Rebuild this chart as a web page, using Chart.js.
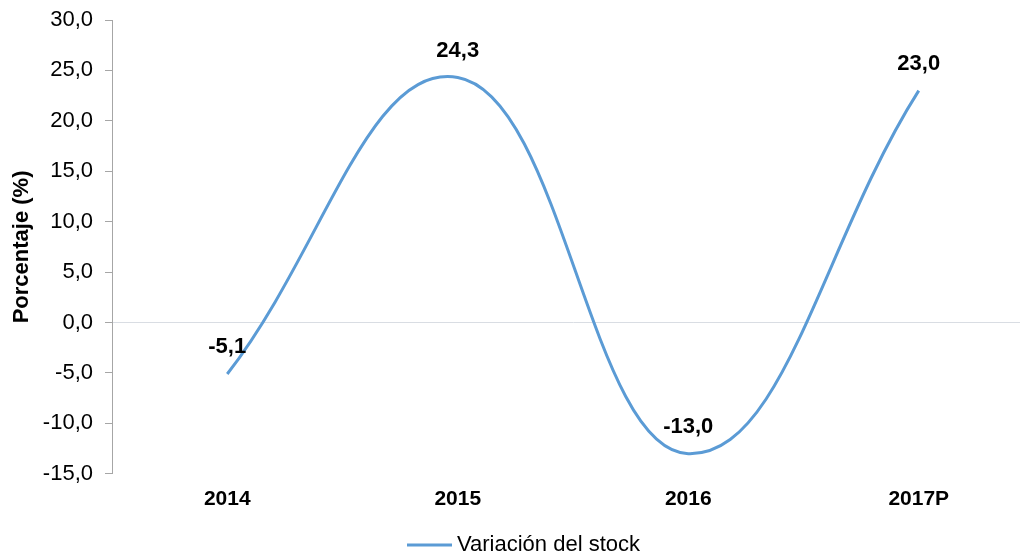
<!DOCTYPE html>
<html>
<head>
<meta charset="utf-8">
<script src="https://cdn.jsdelivr.net/npm/chart.js@4"></script>
<style>
  html, body { margin: 0; padding: 0; background: #fff; overflow: hidden; }
  #wrap { width: 1050px; height: 553px; position: relative; }
</style>
</head>
<body>
<div id="wrap"><canvas id="c"></canvas></div>
<script>
const categories = ['2014', '2015', '2016', '2017P'];
const seriesName = 'Variación del stock';
const seriesValues = [-5.1, 24.3, -13.0, 23.0];
const yTicks = [-15, -10, -5, 0, 5, 10, 15, 20, 25, 30];
const yTitle = 'Porcentaje (%)';

const FONT = '"Liberation Sans", Arial, sans-serif';
const LINE_COLOR = '#5B9BD5';
const fmt = v => v.toFixed(1).replace('.', ',');

// legend swatch: a short line, offset so the gap to the text is small
const swatch = document.createElement('canvas');
swatch.width = 50; swatch.height = 4;
(function () {
  const c = swatch.getContext('2d');
  c.strokeStyle = LINE_COLOR;
  c.lineWidth = 3;
  c.beginPath(); c.moveTo(5, 2); c.lineTo(50, 2); c.stroke();
})();

const labelPlugin = {
  id: 'valueLabels',
  afterDatasetsDraw(chart) {
    const ctx = chart.ctx;
    const meta = chart.getDatasetMeta(0);
    ctx.save();
    ctx.font = 'bold 22px ' + FONT;
    ctx.fillStyle = '#000';
    ctx.textAlign = 'center';
    ctx.textBaseline = 'middle';
    meta.data.forEach((pt, i) => {
      ctx.fillText(fmt(seriesValues[i]), pt.x, pt.y - 27);
    });
    ctx.restore();
  }
};

new Chart(document.getElementById('c'), {
  type: 'line',
  data: {
    labels: categories,
    datasets: [{
      label: seriesName,
      data: seriesValues,
      borderColor: LINE_COLOR,
      backgroundColor: LINE_COLOR,
      borderWidth: 3,
      pointRadius: 0,
      pointHoverRadius: 0,
      tension: 0.42,
      fill: false,
      pointStyle: swatch
    }]
  },
  options: {
    responsive: true,
    maintainAspectRatio: false,
    animation: false,
    layout: { padding: { top: 20, right: 16, left: 14, bottom: -13 } },
    plugins: {
      tooltip: { enabled: false },
      legend: {
        position: 'bottom',
        labels: {
          usePointStyle: true,
          pointStyleWidth: 38,
          boxHeight: 22,
          color: '#000',
          font: { family: FONT, size: 22 },
          padding: 6
        }
      }
    },
    scales: {
      x: {
        offset: true,
        grid: { display: false },
        border: { display: false },
        afterFit(scale) { scale.height += 11; },
        ticks: {
          color: '#000',
          font: { family: FONT, size: 21, weight: 'bold' },
          padding: 5,
          maxRotation: 0
        }
      },
      y: {
        min: -15,
        max: 30,
        afterBuildTicks(scale) { scale.ticks = yTicks.map(v => ({ value: v })); },
        afterFit(scale) { scale.width = 98; scale.paddingTop = 0; scale.paddingBottom = 0; },
        border: { display: true, color: '#A6A6A6', width: 1 },
        grid: {
          color: ctx => (ctx.tick && ctx.tick.value === 0) ? '#D9DDE3' : 'rgba(0,0,0,0)',
          tickColor: '#A6A6A6',
          tickLength: 7,
          lineWidth: 1
        },
        ticks: {
          color: '#000',
          font: { family: FONT, size: 22 },
          padding: 12,
          callback: v => fmt(v)
        },
        title: {
          display: true,
          text: yTitle,
          color: '#000',
          font: { family: FONT, size: 22, weight: 'bold' },
          padding: { top: -5, bottom: 0 }
        }
      }
    }
  },
  plugins: [labelPlugin]
});
</script>
</body>
</html>
